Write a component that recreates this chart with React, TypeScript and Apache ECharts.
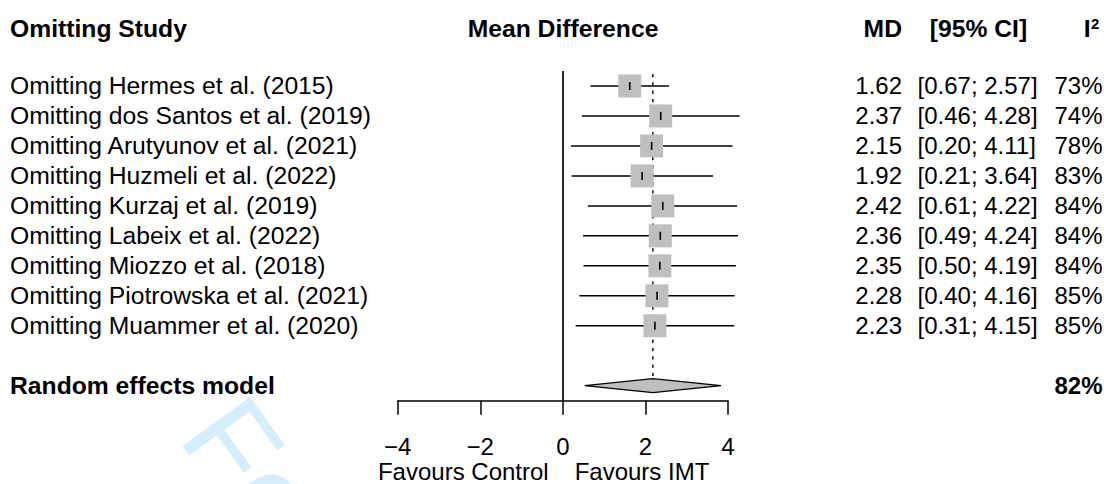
import React, { useEffect, useRef } from "react";
import * as echarts from "echarts";

// ---------- data ----------
const studies: string[] = [
  "Omitting Hermes et al. (2015)",
  "Omitting dos Santos et al. (2019)",
  "Omitting Arutyunov et al. (2021)",
  "Omitting Huzmeli et al. (2022)",
  "Omitting Kurzaj et al. (2019)",
  "Omitting Labeix et al. (2022)",
  "Omitting Miozzo et al. (2018)",
  "Omitting Piotrowska et al. (2021)",
  "Omitting Muammer et al. (2020)",
];
const mdValues: number[] = [1.62, 2.37, 2.15, 1.92, 2.42, 2.36, 2.35, 2.28, 2.23];
const ciLower: number[] = [0.67, 0.46, 0.2, 0.21, 0.61, 0.49, 0.5, 0.4, 0.31];
const ciUpper: number[] = [2.57, 4.28, 4.11, 3.64, 4.22, 4.24, 4.19, 4.16, 4.15];
const i2Values: number[] = [73, 74, 78, 83, 84, 84, 84, 85, 85];

const pooledLabel = "Random effects model";
const pooledMd = 2.18;
const pooledLower = 0.53;
const pooledUpper = 3.83;
const pooledI2 = 82;

const xTicks: number[] = [-4, -2, 0, 2, 4];
const headers = {
  study: "Omitting Study",
  effect: "Mean Difference",
  md: "MD",
  ci: "[95% CI]",
  i2Base: "I",
  i2Sup: "2",
};
const favoursLeft = "Favours Control";
const favoursRight = "Favours IMT";
const watermark = "For Peer Review";

const FONT = '"Liberation Sans", Arial, Helvetica, sans-serif';
const FS = 24;
const FS_LABEL = 24.7;

const fmt = (v: number) => v.toFixed(2);

export default function App() {
  const ref = useRef<HTMLDivElement>(null);

  useEffect(() => {
    if (!ref.current) return;
    const chart = echarts.init(ref.current, undefined, { renderer: "svg" });

    const rows = studies.map((_, i) => i + 1);
    const pooledRow = studies.length + 2;
    const hdr = (text: string, x: number, align: string, extra: any = {}) => ({
      type: "text",
      x,
      y: 28,
      style: {
        text,
        fill: "#000",
        fontSize: FS_LABEL,
        fontWeight: "bold",
        fontFamily: FONT,
        textAlign: align,
        textVerticalAlign: "middle",
        ...extra,
      },
    });

    const option: any = {
      animation: false,
      backgroundColor: "#ffffff",
      grid: { left: 397.7, right: 376, top: 71, bottom: 83.3, containLabel: false },
      xAxis: {
        type: "value",
        min: xTicks[0],
        max: xTicks[xTicks.length - 1],
        interval: 2,
        axisLine: { show: true, lineStyle: { color: "#000", width: 1.5 } },
        axisTick: { show: true, length: 14, inside: false, lineStyle: { color: "#000", width: 1.5 } },
        axisLabel: {
          show: true,
          margin: 33.5,
          color: "#000",
          fontSize: FS,
          fontFamily: FONT,
          formatter: (v: number) => String(v).replace("-", "\u2212"),
        },
        splitLine: { show: false },
      },
      yAxis: {
        type: "value",
        min: 0.5,
        max: pooledRow + 0.5,
        inverse: true,
        show: false,
      },
      graphic: [
        {
          type: "text",
          x: 162,
          y: 449,
          rotation: (-54 * Math.PI) / 180,
          z: 0,
          silent: true,
          style: {
            text: watermark,
            fill: "#d4eefb",
            fontSize: 121,
            fontFamily: FONT,
            textAlign: "left",
            textVerticalAlign: "bottom",
          },
        },
        hdr(headers.study, 10, "left"),
        hdr(headers.effect, 563, "center"),
        hdr(headers.md, 902, "right"),
        hdr(headers.ci, 978.5, "center"),
        hdr(headers.i2Base, 1090.5, "right"),
        {
          type: "text",
          x: 1091,
          y: 23,
          style: {
            text: headers.i2Sup,
            fill: "#000",
            fontSize: 15,
            fontWeight: "bold",
            fontFamily: FONT,
            textAlign: "left",
            textVerticalAlign: "middle",
          },
        },
        {
          type: "text",
          x: 463.3,
          y: 471.5,
          style: { text: favoursLeft, fill: "#000", fontSize: FS, fontFamily: FONT, textAlign: "center", textVerticalAlign: "middle" },
        },
        {
          type: "text",
          x: 642,
          y: 471.5,
          style: { text: favoursRight, fill: "#000", fontSize: FS, fontFamily: FONT, textAlign: "center", textVerticalAlign: "middle" },
        },
      ],
      series: [
        // confidence interval whiskers
        {
          type: "custom",
          z: 2,
          encode: { x: [0, 1], y: 2 },
          data: rows.map((r, i) => [ciLower[i], ciUpper[i], r]),
          renderItem: (_p: any, api: any) => {
            const a = api.coord([api.value(0), api.value(2)]);
            const b = api.coord([api.value(1), api.value(2)]);
            return {
              type: "line",
              shape: { x1: a[0], y1: a[1], x2: b[0], y2: b[1] },
              style: { stroke: "#000", lineWidth: 1.5 },
            };
          },
        },
        // squares
        {
          type: "scatter",
          z: 3,
          symbol: "rect",
          symbolSize: 23,
          itemStyle: { color: "#bfbfbf", opacity: 1 },
          data: rows.map((r, i) => [mdValues[i], r]),
          markLine: {
            silent: true,
            symbol: ["none", "none"],
            label: { show: false },
            lineStyle: { color: "#000", width: 1.7, type: "solid" },
            data: [{ xAxis: 0 }],
          },
        },
        // estimate ticks inside squares
        {
          type: "custom",
          z: 4,
          encode: { x: 0, y: 1 },
          data: rows.map((r, i) => [mdValues[i], r]),
          renderItem: (_p: any, api: any) => {
            const c = api.coord([api.value(0), api.value(1)]);
            return {
              type: "line",
              shape: { x1: c[0], y1: c[1] - 4, x2: c[0], y2: c[1] + 4 },
              style: { stroke: "#000", lineWidth: 1.6 },
            };
          },
        },
        // dotted pooled line
        {
          type: "custom",
          z: 1,
          encode: { x: 0, y: [1, 2] },
          data: [[pooledMd, 0.5, pooledRow]],
          renderItem: (_p: any, api: any) => {
            const a = api.coord([api.value(0), api.value(1)]);
            const b = api.coord([api.value(0), api.value(2)]);
            return {
              type: "line",
              shape: { x1: a[0], y1: a[1] + 3, x2: b[0], y2: b[1] - 7 },
              style: { stroke: "#222", lineWidth: 1.6, lineDash: [3.3, 5] },
            };
          },
        },
        // diamond
        {
          type: "custom",
          z: 3,
          encode: { x: [0, 1, 2], y: 3 },
          data: [[pooledLower, pooledMd, pooledUpper, pooledRow]],
          renderItem: (_p: any, api: any) => {
            const row = api.value(3);
            const l = api.coord([api.value(0), row]);
            const m = api.coord([api.value(1), row]);
            const u = api.coord([api.value(2), row]);
            return {
              type: "polygon",
              shape: { points: [l, [m[0], m[1] - 7], u, [m[0], m[1] + 7]] },
              style: { fill: "#bfbfbf", stroke: "#000", lineWidth: 1.2 },
            };
          },
        },
        // table texts (study rows)
        {
          type: "custom",
          z: 5,
          encode: { x: 0, y: 1 },
          data: rows.map((r) => [0, r]),
          renderItem: (p: any, api: any) => {
            const i = p.dataIndex;
            const y = api.coord([0, api.value(1)])[1];
            const base = { fill: "#000", fontSize: FS, fontFamily: FONT, textVerticalAlign: "middle" };
            return {
              type: "group",
              children: [
                { type: "text", x: 10, y, style: { ...base, fontSize: FS_LABEL, text: studies[i], textAlign: "left" } },
                { type: "text", x: 902, y, style: { ...base, text: fmt(mdValues[i]), textAlign: "right" } },
                { type: "text", x: 917.5, y, style: { ...base, text: `[${fmt(ciLower[i])}; ${fmt(ciUpper[i])}]`, textAlign: "left" } },
                { type: "text", x: 1102.5, y, style: { ...base, text: `${i2Values[i]}%`, textAlign: "right" } },
              ],
            };
          },
        },
        // pooled row texts
        {
          type: "custom",
          z: 5,
          encode: { x: 0, y: 1 },
          data: [[0, pooledRow]],
          renderItem: (_p: any, api: any) => {
            const y = api.coord([0, api.value(1)])[1];
            const base = { fill: "#000", fontFamily: FONT, fontWeight: "bold", textVerticalAlign: "middle" };
            return {
              type: "group",
              children: [
                { type: "text", x: 10, y, style: { ...base, fontSize: FS_LABEL, text: pooledLabel, textAlign: "left" } },
                { type: "text", x: 1102.5, y, style: { ...base, fontSize: FS, text: `${pooledI2}%`, textAlign: "right" } },
              ],
            };
          },
        },
      ],
    };

    chart.setOption(option);
    return () => chart.dispose();
  }, []);

  return (
    <div
      ref={ref}
      style={{ position: "fixed", left: 0, top: 0, width: 1104, height: 484, background: "#fff" }}
    />
  );
}
